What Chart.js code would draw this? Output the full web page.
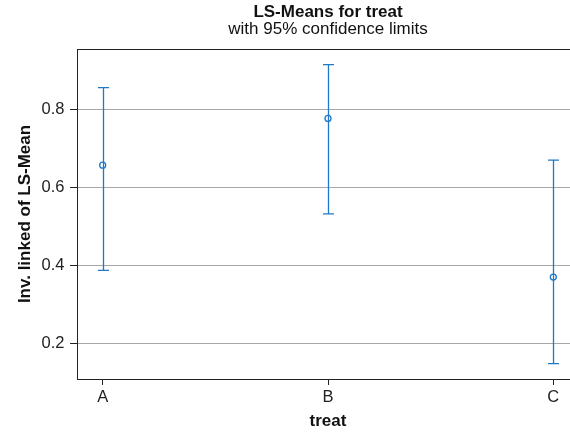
<!DOCTYPE html>
<html>
<head>
<meta charset="utf-8">
<script src="https://cdn.jsdelivr.net/npm/chart.js@4.4.1/dist/chart.umd.min.js"></script>
<style>
  html, body { margin: 0; padding: 0; background: #fff; }
  #wrap { width: 570px; height: 433px; overflow: hidden; }
</style>
</head>
<body>
<div id="wrap"><canvas id="lsmeans" width="656" height="433"></canvas></div>
<script>
var categories = ['A', 'B', 'C'];
var means = [0.657, 0.777, 0.370];
var lower = [0.387, 0.532, 0.148];
var upper = [0.856, 0.915, 0.670];
var yTicks = [0.2, 0.4, 0.6, 0.8];

var blue = '#1f78c8';
var font = 'Liberation Sans';

// whiskers + caps for the confidence limits, and the frame's top/right edges
var errorBars = {
    id: 'errorBars',
    afterDatasetsDraw: function (chart) {
        var ctx = chart.ctx;
        var xs = chart.scales.x, ys = chart.scales.y;
        ctx.save();
        ctx.strokeStyle = blue;
        ctx.lineWidth = 1.3;
        for (var i = 0; i < categories.length; i++) {
            var px = Math.round(xs.getPixelForValue(i)) + 0.5;
            var lo = ys.getPixelForValue(lower[i]);
            var hi = ys.getPixelForValue(upper[i]);
            ctx.beginPath();
            ctx.moveTo(px, hi);
            ctx.lineTo(px, lo);
            ctx.moveTo(px - 5.5, hi);
            ctx.lineTo(px + 5.5, hi);
            ctx.moveTo(px - 5.5, lo);
            ctx.lineTo(px + 5.5, lo);
            ctx.stroke();
        }
        ctx.restore();
    },
    afterDraw: function (chart) {
        var a = chart.chartArea, ctx = chart.ctx;
        var top = Math.round(a.top) + 0.5;
        ctx.save();
        ctx.strokeStyle = '#222';
        ctx.lineWidth = 1;
        ctx.beginPath();
        ctx.moveTo(a.left, top);
        ctx.lineTo(a.right, top);
        ctx.lineTo(a.right, a.bottom);
        ctx.stroke();
        ctx.restore();
    }
};

var ctx = document.getElementById('lsmeans').getContext('2d');
var chart = new Chart(ctx, {
    type: 'scatter',
    data: {
        datasets: [{
            label: 'LS-Mean',
            data: means.map(function (m, i) { return { x: i, y: m }; }),
            pointStyle: 'circle',
            pointRadius: 3,
            pointBorderWidth: 1.3,
            borderColor: blue,
            backgroundColor: 'rgba(0,0,0,0)'
        }]
    },
    options: {
        responsive: false,
        animation: false,
        layout: { autoPadding: false, padding: 0 },
        plugins: {
            legend: { display: false },
            tooltip: { enabled: false },
            title: {
                display: true,
                text: 'LS-Means for treat',
                color: '#111',
                font: { family: font, size: 17, weight: 'bold', lineHeight: 1.0 },
                padding: { top: 4, bottom: 0 }
            },
            subtitle: {
                display: true,
                text: 'with 95% confidence limits',
                color: '#111',
                font: { family: font, size: 17, lineHeight: 1.0 },
                padding: { top: 0, bottom: 11 }
            }
        },
        scales: {
            x: {
                type: 'linear',
                min: -0.114,
                max: 2.114,
                afterBuildTicks: function (scale) {
                    scale.ticks = categories.map(function (c, i) { return { value: i }; });
                },
                afterFit: function (scale) { scale.height = 54; },
                ticks: {
                    color: '#222',
                    font: { family: font, size: 16.5 },
                    padding: 3,
                    maxRotation: 0,
                    callback: function (v) { return categories[v]; }
                },
                grid: { drawOnChartArea: false, tickLength: 6, color: '#222' },
                border: { display: true, color: '#222', width: 1 },
                title: {
                    display: true,
                    text: 'treat',
                    color: '#111',
                    font: { family: font, size: 17, weight: 'bold' },
                    padding: { top: 4, bottom: 1 }
                }
            },
            y: {
                min: 0.1085,
                max: 0.955,
                afterBuildTicks: function (scale) {
                    scale.ticks = yTicks.map(function (v) { return { value: v }; });
                },
                afterFit: function (scale) { scale.width = 77; },
                ticks: {
                    color: '#222',
                    font: { family: font, size: 16.5 },
                    padding: 5.5,
                    callback: function (v) { return v.toFixed(1); }
                },
                grid: { color: '#a8a8a8', tickColor: '#222', tickLength: 7 },
                border: { display: true, color: '#222', width: 1 },
                title: {
                    display: true,
                    text: 'Inv. linked of LS-Mean',
                    color: '#111',
                    font: { family: font, size: 17, weight: 'bold' },
                    padding: { top: 15, bottom: 0 }
                }
            },
            // empty right-hand box so the plot sits symmetric under the titles
            yRight: {
                position: 'right',
                min: 0,
                max: 1,
                afterFit: function (scale) { scale.width = 77; },
                ticks: { display: false },
                grid: { display: false },
                border: { display: false }
            }
        }
    },
    plugins: [errorBars]
});
</script>
</body>
</html>
